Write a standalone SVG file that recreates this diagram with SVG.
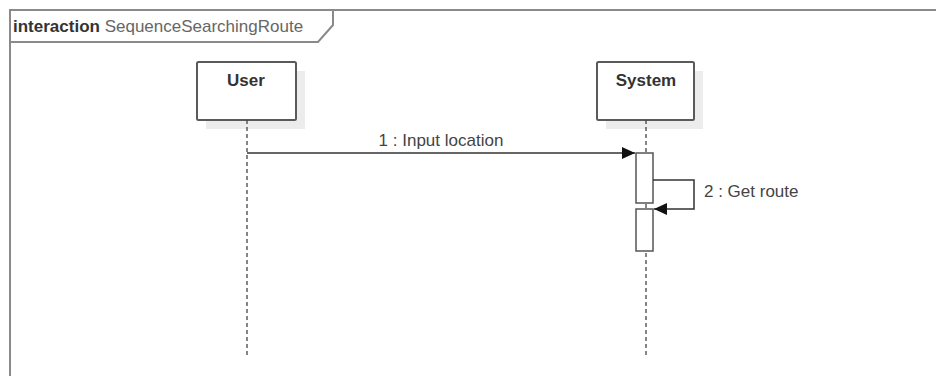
<svg xmlns="http://www.w3.org/2000/svg" width="936" height="376" viewBox="0 0 936 376">
<style>
.frame{fill:none;stroke:#8a8a8a;stroke-width:2}
.box{fill:#fff;stroke:#5a5a5a;stroke-width:2}
.shadow{fill:#ececec}
.lifeline{stroke:#444;stroke-width:1.3;stroke-dasharray:4,3;fill:none}
.act{fill:#fff;stroke:#555;stroke-width:1.5}
.msg{stroke:#333;stroke-width:1.5;fill:none}
.name{font-family:"Liberation Sans",Arial,sans-serif;font-size:17px;font-weight:bold;fill:#333;text-anchor:middle}
.lbl{font-family:"Liberation Sans",Arial,sans-serif;font-size:17px;fill:#444}
</style>
<defs>
<marker id="ah" markerWidth="14" markerHeight="12" refX="13" refY="6" orient="auto" markerUnits="userSpaceOnUse">
<path d="M0,0 L13,6 L0,12 Z" fill="#111"/>
</marker>
</defs>
<rect width="936" height="376" fill="#fff"/>
<g id="frame">
<path class="frame" d="M10,376 L10,10 L936,10"/>
<path class="frame" d="M10,42 L318,42 L333,25 L333,10"/>
<text x="13" y="32" style="font-family:'Liberation Sans',Arial,sans-serif;font-size:17px;fill:#666"><tspan font-weight="bold" fill="#333">interaction</tspan> SequenceSearchingRoute</text>
</g>
<g id="user">
<rect class="shadow" x="206" y="71" width="99" height="58"/>
<rect class="box" x="197" y="62" width="99" height="58" rx="1.5"/>
<text class="name" x="246" y="86">User</text>
<line class="lifeline" x1="247" y1="120" x2="247" y2="357"/>
</g>
<g id="system">
<rect class="shadow" x="606" y="71" width="97" height="58"/>
<rect class="box" x="597" y="62" width="97" height="58" rx="1.5"/>
<text class="name" x="646" y="86">System</text>
<line class="lifeline" x1="646" y1="120" x2="646" y2="357"/>
<rect class="act" x="636" y="153" width="17" height="50"/>
<rect class="act" x="636" y="209" width="17" height="42"/>
</g>
<g id="connectors">
<line class="msg" x1="247" y1="153" x2="635" y2="153" marker-end="url(#ah)"/>
<text class="lbl" x="441" y="146" text-anchor="middle">1 : Input location</text>
<path class="msg" d="M653,180 L694,180 L694,209 L654,209" marker-end="url(#ah)"/>
<text class="lbl" x="704" y="197">2 : Get route</text>
</g>
</svg>
